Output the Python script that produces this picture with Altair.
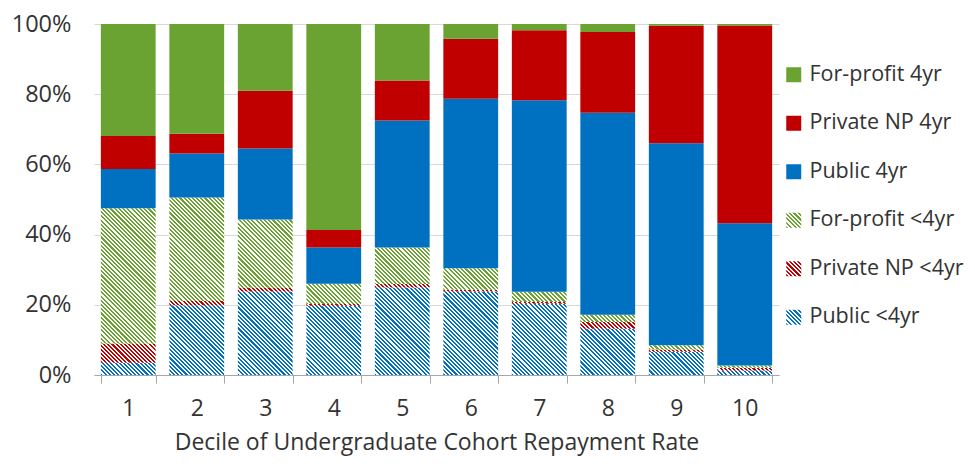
import json
import altair as alt
import pandas as pd

# ---- data (percent of each decile) ----
deciles = ["1", "2", "3", "4", "5", "6", "7", "8", "9", "10"]
categories = ["Public <4yr", "Private NP <4yr", "For-profit <4yr",
              "Public 4yr", "Private NP 4yr", "For-profit 4yr"]  # stack order bottom -> top
public_lt4 = [3.5, 19.9, 23.8, 19.7, 24.9, 23.8, 20.3, 13.2, 6.6, 1.3]
privnp_lt4 = [5.5, 1.2, 1.1, 0.5, 1.0, 0.5, 0.5, 1.9, 0.7, 0.8]
forprof_lt4 = [38.5, 29.5, 19.4, 5.8, 10.4, 6.1, 2.9, 2.1, 1.2, 0.6]
public_4 = [11.2, 12.5, 20.2, 10.3, 36.2, 48.3, 54.6, 57.5, 57.5, 40.5]
privnp_4 = [9.4, 5.6, 16.5, 5.0, 11.4, 17.1, 19.9, 23.0, 33.5, 56.4]
forprof_4 = [31.9, 31.3, 19.0, 58.7, 16.1, 4.2, 1.8, 2.3, 0.5, 0.4]
series = [public_lt4, privnp_lt4, forprof_lt4, public_4, privnp_4, forprof_4]

BLUE, RED, GREEN = "#0070C0", "#C00000", "#6AA332"
base_colors = [BLUE, RED, GREEN, BLUE, RED, GREEN]
hatched = [True, True, True, False, False, False]

# ---- layout ----
W, H = 685, 351
PAD_IN, PAD_OUT = 0.2, 0.1
FONT = "Open Sans"
TXT = "#333333"

step = W / (len(deciles) - PAD_IN + 2 * PAD_OUT)
bar_w = step * (1 - PAD_IN)


def hatch(color, w, h, period=4.2):
    """Diagonal '\\' stripes as a linear gradient in the mark's bounding box."""
    w = max(w, 0.5)
    h = max(h, 0.5)
    n = max(1, int(round((w + h) / period)))
    k = (w + h) / (w * w + h * h)
    stops = []
    for s in range(n):
        a, b, c = s / n, (s + 0.5) / n, (s + 1) / n
        stops += [{"offset": a, "color": color}, {"offset": b, "color": color},
                  {"offset": b, "color": "#ffffff"}, {"offset": c, "color": "#ffffff"}]
    return {"gradient": "linear", "x1": 0, "y1": 1, "x2": k * w, "y2": 1 - k * h, "stops": stops}


rows = []
for j, (cat, vals) in enumerate(zip(categories, series)):
    for d, v in zip(deciles, vals):
        fill = hatch(base_colors[j], bar_w, v * H / 100) if hatched[j] else base_colors[j]
        rows.append({"decile": d, "category": cat, "value": v, "order": j, "fillv": fill})
df = pd.DataFrame(rows)

legend_order = categories[::-1]
legend_range = []
for cat in legend_order:
    j = categories.index(cat)
    if hatched[j]:
        legend_range.append({"expr": json.dumps(hatch(base_colors[j], 15, 15, period=4.2))})
    else:
        legend_range.append(base_colors[j])

bars = alt.Chart(df).mark_bar().encode(
    x=alt.X("decile:O", sort=deciles,
            scale=alt.Scale(paddingInner=PAD_IN, paddingOuter=PAD_OUT),
            axis=alt.Axis(title="Decile of Undergraduate Cohort Repayment Rate", labelAngle=0,
                          tickBand="extent", tickSize=8, tickColor="#A6A6A6",
                          domainColor="#A6A6A6", labelFontSize=23, labelFont=FONT,
                          labelColor=TXT, labelPadding=14, titleFontSize=23,
                          titleFont=FONT, titleColor=TXT, titleFontWeight="normal",
                          titlePadding=11, grid=False)),
    y=alt.Y("value:Q", stack="zero",
            scale=alt.Scale(domain=[0, 100], nice=False),
            axis=alt.Axis(title=None, values=[0, 20, 40, 60, 80, 100],
                          labelExpr="datum.value + '%'", domain=False, ticks=False,
                          labelFontSize=23.5, labelFont=FONT, labelColor=TXT,
                          labelPadding=23, gridColor="#D9D9D9", gridWidth=1)),
    fill=alt.Fill("fillv:N", scale=None),
    order=alt.Order("order:Q", sort="ascending"),
)

legend_layer = alt.Chart(df).transform_filter("false").mark_square(opacity=1).encode(
    color=alt.Color("category:N",
                    scale=alt.Scale(domain=legend_order, range=legend_range),
                    legend=alt.Legend(title=None, orient="none", legendX=689, legendY=40,
                                      symbolType="square", symbolSize=225,
                                      symbolStrokeWidth=0, labelFontSize=21.5,
                                      labelFont=FONT, labelColor=TXT, labelOffset=5,
                                      rowPadding=25.5, padding=0, labelLimit=300))
)

chart = alt.layer(bars, legend_layer).properties(
    width=W, height=H,
    autosize=alt.AutoSizeParams(type="none"),
    padding={"left": 86, "top": 16, "right": 188, "bottom": 81},
).configure_view(stroke=None)

chart.save("out.html", embed_options={"renderer": "svg", "actions": False})
